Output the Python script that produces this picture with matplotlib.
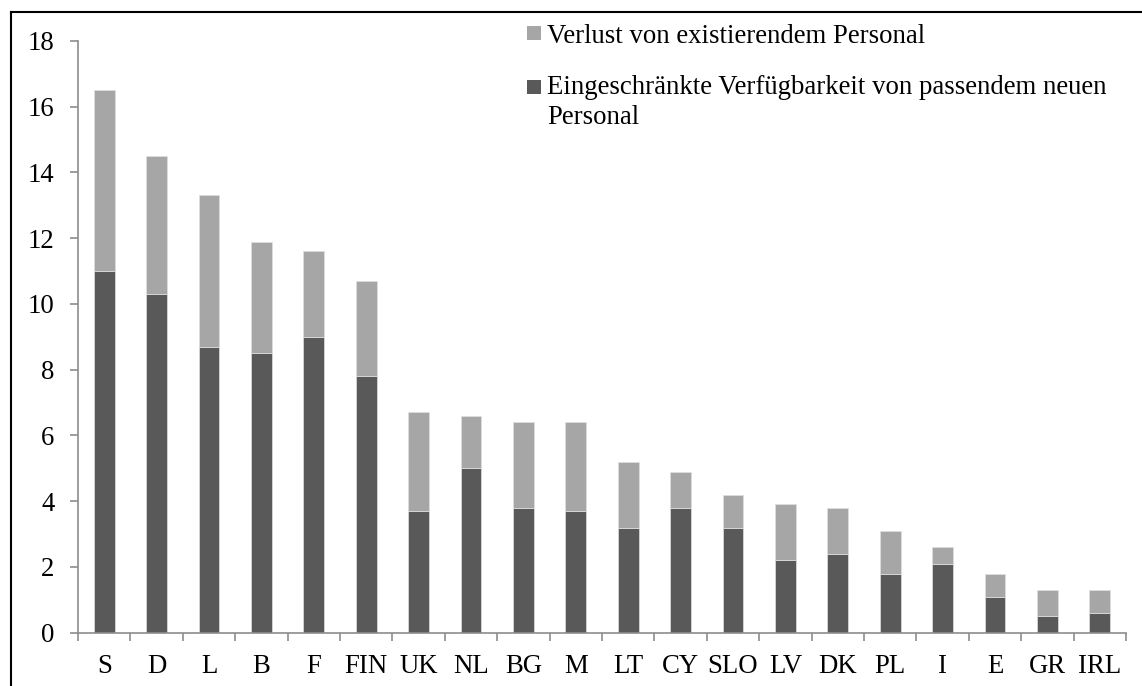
import numpy as np
import matplotlib
matplotlib.use("Agg")
import matplotlib.pyplot as plt
from matplotlib.lines import Line2D
from matplotlib.patches import Rectangle

plt.rcParams["font.family"] = ["Liberation Serif", "DejaVu Serif"]

laender = ["S", "D", "L", "B", "F", "FIN", "UK", "NL", "BG", "M",
           "LT", "CY", "SLO", "LV", "DK", "PL", "I", "E", "GR", "IRL"]
# Eingeschränkte Verfügbarkeit von passendem neuen Personal
neu = [11.0, 10.3, 8.7, 8.5, 9.0, 7.8, 3.7, 5.0, 3.8, 3.7,
       3.2, 3.8, 3.2, 2.2, 2.4, 1.8, 2.1, 1.1, 0.5, 0.6]
# Verlust von existierendem Personal (gestapelt)
verlust = [5.5, 4.2, 4.6, 3.4, 2.6, 2.9, 3.0, 1.6, 2.6, 2.7,
           2.0, 1.1, 1.0, 1.7, 1.4, 1.3, 0.5, 0.7, 0.8, 0.7]
legende = ["Verlust von existierendem Personal",
           "Eingeschränkte Verfügbarkeit von passendem neuen", "Personal"]

dunkel = "#595959"
hell = "#a6a6a6"
achse = "#8c8c8c"
fs = 19.3

W, H = 1142, 686
fig = plt.figure(figsize=(W / 100, H / 100), dpi=100)
ax = fig.add_axes([78 / W, 1 - 632.7 / H, (1126 - 78) / W, (632.7 - 41) / H])

x = np.arange(len(laender))
ax.bar(x, neu, width=0.4, color=dunkel, edgecolor="#e0e0e0", linewidth=0.5)
ax.bar(x, verlust, width=0.4, bottom=neu, color=hell, edgecolor="#e0e0e0", linewidth=0.5)

ax.set_xlim(-0.5, len(laender) - 0.5)
ax.set_ylim(0, 18)
ax.set_yticks(np.arange(0, 19, 2))
ax.set_xticks(x)
ax.set_xticklabels(laender)
ax.set_xticks(np.arange(-0.5, len(laender)), minor=True)

for s in ["top", "right"]:
    ax.spines[s].set_visible(False)
for s in ["left", "bottom"]:
    ax.spines[s].set_color(achse)
    ax.spines[s].set_linewidth(1.2)

ax.tick_params(axis="y", colors=achse, labelcolor="black", labelsize=fs,
               length=6, width=1.2, pad=11)
ax.tick_params(axis="x", which="major", length=0, labelsize=fs, pad=15)
ax.tick_params(axis="x", which="minor", colors=achse, length=6, width=1.2)

# Legende (Pixelpositionen von oben)
def px(xp, yp):
    return xp / W, 1 - yp / H

for farbe, yc in [(hell, 33), (dunkel, 87)]:
    x0, y0 = px(527, yc + 7)
    fig.add_artist(Rectangle((x0, y0), 14 / W, 14 / H, transform=fig.transFigure,
                             facecolor=farbe, edgecolor="none"))
for txt, yb in zip(legende, [43, 94, 124]):
    fig.text(*px(547, yb), txt, fontsize=fs, va="baseline", ha="left")

# Rahmen
fig.add_artist(Line2D([11 / W, 1], [1 - 12 / H, 1 - 12 / H],
                      transform=fig.transFigure, color="black", linewidth=1.5))
fig.add_artist(Line2D([11 / W, 11 / W], [0, 1 - 12 / H],
                      transform=fig.transFigure, color="black", linewidth=1.5))

fig.savefig("out.png", dpi=100)
